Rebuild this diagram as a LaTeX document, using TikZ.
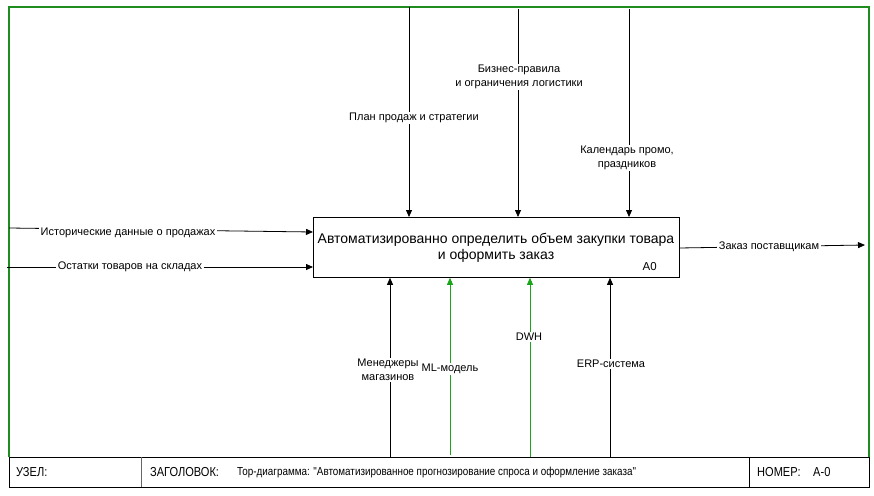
\documentclass[tikz,border=0pt]{standalone}
\usepackage{fontspec}
\setmainfont{Liberation Sans}
\newfontfamily\narrowfont[FakeStretch=0.85]{Liberation Sans}
\usetikzlibrary{arrows.meta}
\definecolor{framegreen}{RGB}{30,140,30}
\definecolor{mechgreen}{RGB}{25,165,25}
\begin{document}
\begin{tikzpicture}[x=1pt,y=-1pt,
  lbl/.style={font=\fontsize{11}{13}\selectfont, fill=white, inner sep=1.5pt, align=center},
  lbltwo/.style={lbl, font=\fontsize{11}{14}\selectfont},
  flow/.style={line width=0.8pt, -{Triangle[length=7pt,width=6pt]}},
  greenflow/.style={flow, draw=mechgreen, -{Triangle[length=7pt,width=6pt,fill=mechgreen]}},
  tabtext/.style={font=\narrowfont\fontsize{13}{15}\selectfont, anchor=west, inner sep=0pt},
  smalltext/.style={font=\narrowfont\fontsize{11.6}{13}\selectfont, anchor=west, inner sep=0pt}]
\useasboundingbox (0,0) rectangle (874,495);
\fill[white] (0,0) rectangle (874,495);

% outer frame
\draw[framegreen, line width=1.2pt] (9,457) -- (9,7) -- (869,7) -- (869,457);

% activity box
\node[draw, line width=0.8pt, minimum width=366pt, minimum height=60pt,
      anchor=north west, inner sep=0pt] (main) at (313,217) {};
\node[font=\fontsize{14}{16}\selectfont, align=center] (title) at (496,248)
  {Автоматизированно определить объем закупки товара\\и оформить заказ};
\node[font=\fontsize{11.5}{13}\selectfont, anchor=east, inner sep=0pt] (code) at (657,267) {A0};

% controls (top)
\coordinate (c1) at (409,7);
\coordinate (c2) at (518,9);
\coordinate (c3) at (629,9);
\draw[flow] (c1) -- (c1 |- main.north);
\draw[flow] (c2) -- (c2 |- main.north);
\draw[flow] (c3) -- (c3 |- main.north);
\node[lbl] (lc1) at (414,118) {План продаж и стратегии};
\node[lbltwo] (lc2) at (519,77) {Бизнес-правила\\и ограничения логистики};
\node[lbltwo] (lc3) at (627,158) {Календарь промо,\\праздников};

% inputs (left)
\coordinate (i1) at (9,228);
\coordinate (i1e) at (313,232);
\coordinate (i2) at (7,267);
\draw[flow] (i1) -- (i1e);
\draw[flow] (i2) -- (i2 -| main.west);
\node[lbl] (li1) at (128,233) {Исторические данные о продажах};
\node[lbl] (li2) at (130,267) {Остатки товаров на складах};

% output (right)
\coordinate (o1s) at (679,248);
\coordinate (o1) at (865,245);
\draw[flow] (o1s) -- (o1);
\node[lbl] (lo1) at (769,247) {Заказ поставщикам};

% mechanisms (bottom)
\coordinate (m1) at (390,457);
\coordinate (m2) at (450,455);
\coordinate (m3) at (530,457);
\coordinate (m4) at (610,457);
\draw[flow] (m1) -- (m1 |- main.south);
\draw[greenflow] (m2) -- (m2 |- main.south);
\draw[greenflow] (m3) -- (m3 |- main.south);
\draw[flow] (m4) -- (m4 |- main.south);
\node[lbltwo] (lm1) at (388,370) {Менеджеры\\магазинов};
\node[lbl] (lm2) at (450,369) {ML-модель};
\node[lbl] (lm3) at (529,337) {DWH};
\node[lbl] (lm4) at (611,364) {ERP-система};

% title block
\draw[line width=0.8pt] (9,457) rectangle (869,487);
\draw[line width=0.8pt, black!60] (141,457) -- (141,487);
\draw[line width=0.8pt] (749,457) -- (749,487);
\node[tabtext] (node) at (16,472) {УЗЕЛ:};
\node[tabtext] (hdr) at (150,472) {ЗАГОЛОВОК:};
\node[smalltext] (hdrtext) at (237,472) {Тор-диаграмма: "Автоматизированное прогнозирование спроса и оформление заказа"};
\node[tabtext] (num) at (757,472) {НОМЕР:};
\node[tabtext] (numval) at (813,472) {A-0};
\end{tikzpicture}
\end{document}
